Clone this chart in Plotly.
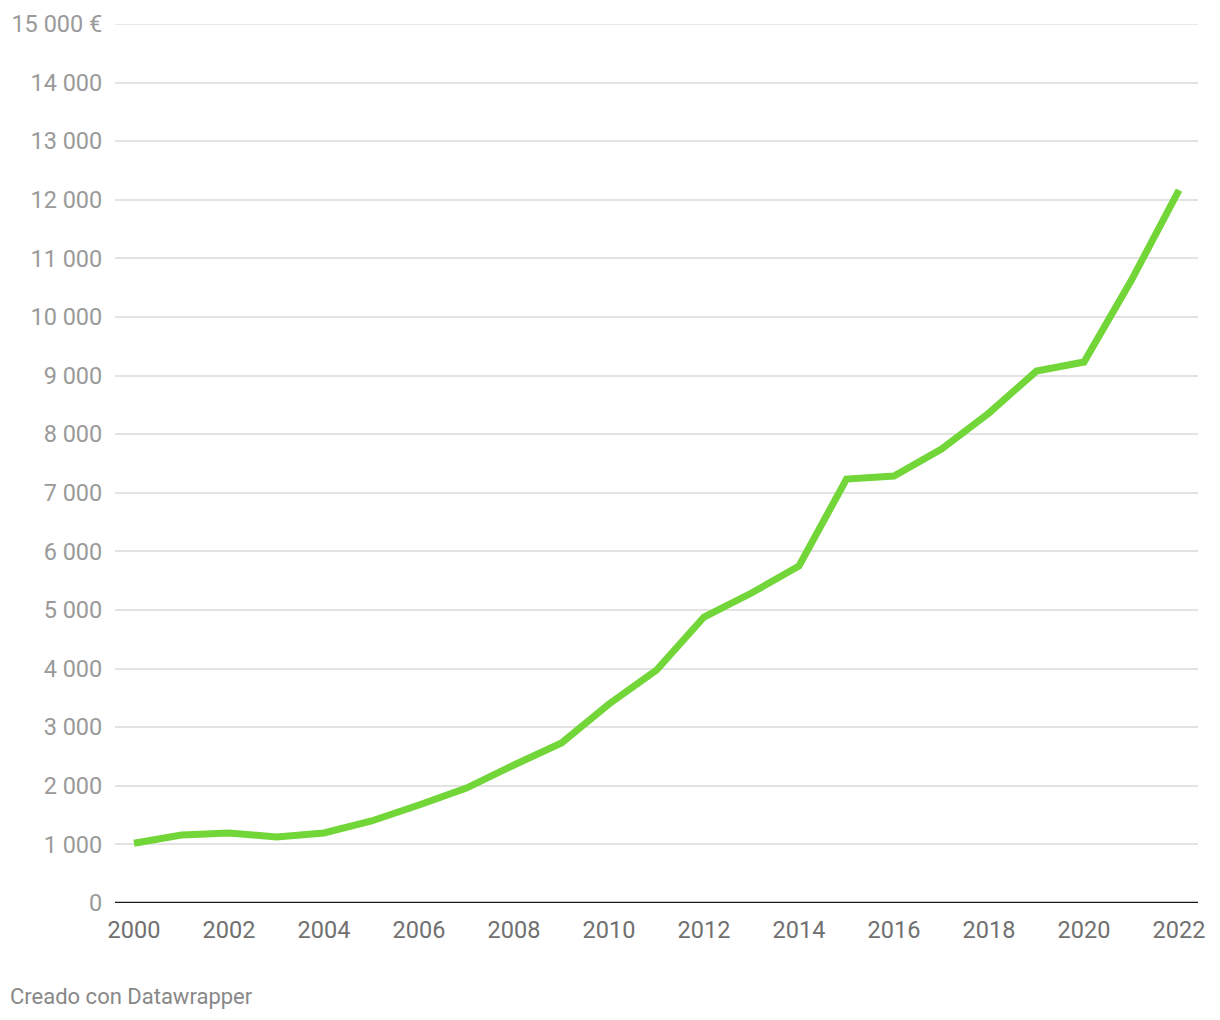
import plotly.graph_objects as go

years = list(range(2000, 2023))
values = [1020, 1160, 1195, 1126, 1195, 1400, 1672, 1962, 2355, 2730, 3396, 3976,
          4880, 5290, 5750, 7235, 7287, 7747, 8362, 9078, 9232, 10631, 12167]

y_tickvals = list(range(0, 15001, 1000))
y_ticktext = ["0"] + [f"{v//1000} 000" for v in y_tickvals[1:-1]] + ["15 000 €"]
x_tickvals = list(range(2000, 2023, 2))
x_ticktext = [str(v) for v in x_tickvals]

fig = go.Figure()
fig.add_trace(go.Scatter(
    x=years, y=values, mode="lines",
    line=dict(color="#72d638", width=7),
    hoverinfo="skip",
))

fig.update_layout(
    width=1220, height=1020,
    margin=dict(l=107, r=30, t=16, b=125),
    paper_bgcolor="white", plot_bgcolor="white",
    showlegend=False,
    font=dict(family="Roboto", size=24, color="#999999"),
    xaxis=dict(
        range=[1999.6, 2022.4], automargin=False,
        tickvals=x_tickvals, ticktext=x_ticktext,
        showgrid=False, zeroline=False, showline=False,
        tickfont=dict(color="#707070", size=23.5),
        ticks="outside", ticklen=6, tickcolor="rgba(0,0,0,0)",
    ),
    yaxis=dict(
        range=[0, 15000], automargin=False,
        tickvals=y_tickvals, ticktext=y_ticktext,
        showgrid=True, gridcolor="#e3e3e3", gridwidth=1.5,
        zeroline=False, showline=False,
        tickfont=dict(color="#9a9a9a", size=23.5),
        ticks="outside", ticklen=7, tickcolor="rgba(0,0,0,0)",
    ),
    shapes=[
        dict(type="line", xref="paper", yref="y", x0=0, x1=1, y0=15000, y1=15000,
             line=dict(color="#e3e3e3", width=1.5), layer="below"),
        dict(type="line", xref="paper", yref="y", x0=0, x1=1, y0=0, y1=0,
             line=dict(color="#1a1a1a", width=2.5)),
    ],
    annotations=[dict(text="Creado con Datawrapper", xref="paper", yref="paper",
                      x=-107/1083, y=-(996-903)/879, xanchor="left", yanchor="middle",
                      showarrow=False, font=dict(family="Roboto", size=22, color="#888888"))],
)

fig.write_html("out.html")
